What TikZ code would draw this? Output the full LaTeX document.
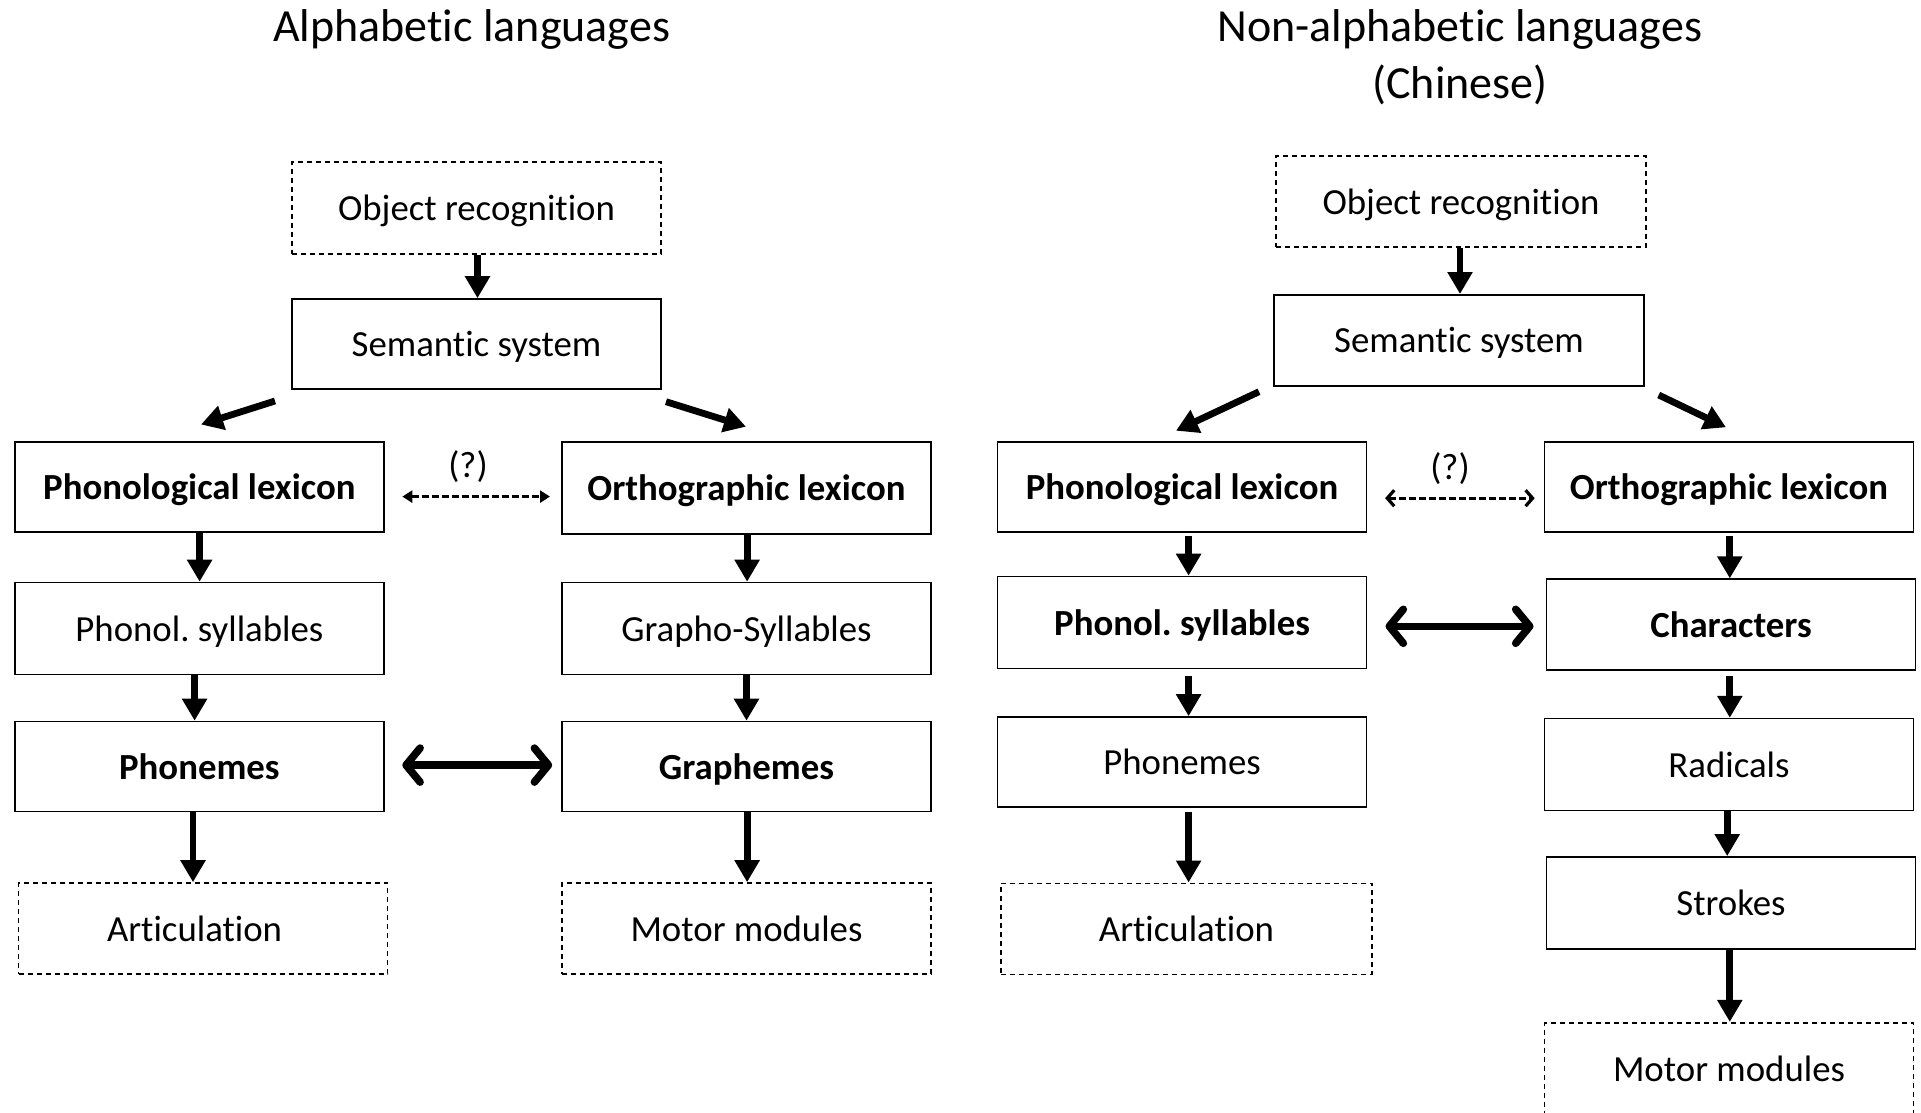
\documentclass[tikz,border=0pt]{standalone}
\usepackage{fontspec}
\setmainfont[Ligatures=NoCommon]{Carlito}
\usetikzlibrary{arrows.meta}
\newcommand{\bxfont}{\frenchspacing\fontsize{18.4pt}{22pt}\selectfont}
\newcommand{\ttlfont}{\frenchspacing\fontsize{23pt}{28pt}\selectfont}
\tikzset{
  box/.style={draw, line width=0.8pt, minimum width=184.5pt, minimum height=45.5pt, inner sep=0pt,
    text height=15.5pt, text depth=2.9pt, font=\bxfont},
  dbox/.style={box, dash pattern=on 2.5pt off 2pt},
  bbox/.style={box, font=\bxfont\bfseries},
  arr/.style={line width=3.4pt, -{Triangle[width=12pt,length=11pt]}},
  dbl/.style={line width=3.8pt, {Straight Barb[length=7pt,width=17pt,round]}-{Straight Barb[length=7pt,width=17pt,round]}},
  qarrL/.style={line width=1.8pt, dash pattern=on 3.5pt off 1.5pt, {Triangle[width=6pt,length=5pt]}-{Triangle[width=6pt,length=5pt]}},
  qarrR/.style={line width=1.6pt, dash pattern=on 3.5pt off 1.5pt, {Straight Barb[length=3.5pt,width=8pt]}-{Straight Barb[length=3.5pt,width=8pt]}},
  ttl/.style={font=\ttlfont, anchor=base, inner sep=0pt},
  qlab/.style={font=\bxfont, inner sep=0pt},
}
\begin{document}
\begin{tikzpicture}[x=0.5pt,y=-0.5pt]
\useasboundingbox (0,0) rectangle (1921,1113);
\clip (0,0) rectangle (1921,1113);
\fill[white] (0,0) rectangle (1921,1113);

% titles
\node[ttl] (tL) at (471.7,41.7) {Alphabetic languages};
\node[ttl] (tR1) at (1460,41.7) {Non-alphabetic languages};
\node[ttl] (tR2) at (1460,98.3) {(Chinese)};

% ---------- left panel ----------
\node[dbox, minimum height=46pt] (objL) at (476.5,207.7) {Object recognition};
\node[box, minimum height=45pt] (semL) at (476.5,344) {Semantic system};
\node[bbox, minimum height=45pt] (phlexL) at (199.4,487) {Phonological lexicon};
\node[bbox, minimum height=46pt] (orlexL) at (746.5,488) {Orthographic lexicon};
\node[box, minimum height=46pt] (sylL) at (199.4,628.5) {Phonol. syllables};
\node[box, minimum height=46pt] (grsylL) at (746.5,628.5) {Grapho-Syllables};
\node[bbox, minimum height=45pt] (phonL) at (199.4,766.5) {Phonemes};
\node[bbox, minimum height=45pt] (graphL) at (746.5,766.5) {Graphemes};
\node[dbox, minimum height=45.5pt] (artL) at (203,928.5) {Articulation\hspace*{8.4pt}};
\node[dbox, minimum height=45.5pt] (motL) at (746.5,928.5) {Motor modules};

\draw[arr] ([xshift=0.5pt]objL.south) coordinate (t) -- (t |- semL.north);
\draw[arr] ([xshift=0.1pt]phlexL.south) coordinate (t) -- (t |- sylL.north);
\draw[arr] ([xshift=-2.4pt]sylL.south) coordinate (t) -- (t |- phonL.north);
\draw[arr] ([xshift=-3.2pt]phonL.south) coordinate (t) -- (t |- artL.north);
\draw[arr] ([xshift=0.3pt]orlexL.south) coordinate (t) -- (t |- grsylL.north);
\draw[arr] ([xshift=0pt]grsylL.south) coordinate (t) -- (t |- graphL.north);
\draw[arr] ([xshift=0.3pt]graphL.south) coordinate (t) -- (t |- motL.north);

\coordinate (dLa) at (275,401);
\coordinate (dLb) at (201,424.5);
\coordinate (dLc) at (666,401.7);
\coordinate (dLd) at (746,426.7);
\draw[arr] (dLa) -- (dLb);
\draw[arr] (dLc) -- (dLd);

\draw[qarrL, shorten <=8.8pt, shorten >=5.6pt] ([yshift=-4.8pt]phlexL.east) coordinate (t) -- (t -| orlexL.west);
\node[qlab] (qL) at (468,467) {(?)};
\draw[dbl, shorten <=8.8pt, shorten >=4.5pt] ([yshift=0.7pt]phonL.east) coordinate (t) -- (t -| graphL.west);

% ---------- right panel ----------
\node[dbox, minimum height=45.5pt, minimum width=185pt] (objR) at (1461,201.7) {Object recognition};
\node[box, minimum height=45.5pt, minimum width=185pt] (semR) at (1459,340.3) {Semantic system};
\node[bbox, minimum height=45pt] (phlexR) at (1182,487) {Phonological lexicon};
\node[bbox, minimum height=45pt] (orlexR) at (1729,487) {Orthographic lexicon};
\node[bbox, minimum height=46pt] (sylR) at (1182,622.5) {Phonol. syllables};
\node[bbox, minimum height=45.5pt] (charR) at (1731,624.7) {Characters};
\node[box, minimum height=45pt] (phonR) at (1182,762) {Phonemes};
\node[box, minimum height=46pt] (radR) at (1729,764.6) {Radicals};
\node[dbox, minimum height=45.5pt, minimum width=185.5pt] (artR) at (1186.5,928.8) {Articulation};
\node[box, minimum height=46pt] (strR) at (1731,902.9) {Strokes};
\node[dbox, minimum height=46pt] (motR) at (1729,1068.7) {Motor modules};

\draw[arr] ([xshift=-0.5pt]objR.south) coordinate (t) -- (t |- semR.north);
\draw[arr, shorten <=1.5pt] ([xshift=3.3pt]phlexR.south) coordinate (t) -- (t |- sylR.north);
\draw[arr, shorten <=3.5pt] ([xshift=3.3pt]sylR.south) coordinate (t) -- (t |- phonR.north);
\draw[arr, shorten <=2pt] ([xshift=3.3pt]phonR.south) coordinate (t) -- (t |- artR.north);
\draw[arr, shorten <=1.5pt] ([xshift=0.4pt]orlexR.south) coordinate (t) -- (t |- charR.north);
\draw[arr, shorten <=2.5pt] ([xshift=-0.6pt]charR.south) coordinate (t) -- (t |- radR.north);
\draw[arr] ([xshift=-0.9pt]radR.south) coordinate (t) -- (t |- strR.north);
\draw[arr] ([xshift=-0.6pt]strR.south) coordinate (t) -- (t |- motR.north);

\coordinate (dRa) at (1259,391.7);
\coordinate (dRb) at (1176,430.7);
\coordinate (dRc) at (1658.7,395);
\coordinate (dRd) at (1726,427.3);
\draw[arr] (dRa) -- (dRb);
\draw[arr] (dRc) -- (dRd);

\draw[qarrR, shorten <=8.9pt, shorten >=4.5pt] ([yshift=-5.6pt]phlexR.east) coordinate (t) -- (t -| orlexR.west);
\node[qlab] (qR) at (1450,469) {(?)};
\draw[dbl, shorten <=9.1pt, shorten >=6.1pt] ([yshift=-1.9pt]sylR.east) coordinate (t) -- (t -| charR.west);
\end{tikzpicture}
\end{document}
